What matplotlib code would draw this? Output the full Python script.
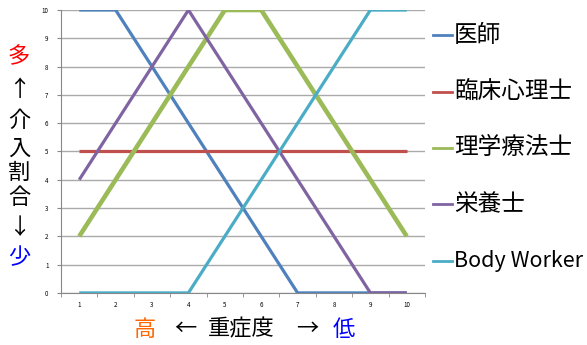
import numpy as np
import matplotlib
matplotlib.use("Agg")
import matplotlib.pyplot as plt
from matplotlib.lines import Line2D

plt.rcParams['font.family'] = ['Noto Sans CJK JP', 'DejaVu Sans']

severity = [1, 2, 3, 4, 5, 6, 7, 8, 9, 10]
ishi = [10, 10, 8, 6, 4, 2, 0, 0, 0, 0]
rinsho = [5, 5, 5, 5, 5, 5, 5, 5, 5, 5]
rigaku = [2, 4, 6, 8, 10, 10, 8, 6, 4, 2]
eiyou = [4, 6, 8, 10, 8, 6, 4, 2, 0, 0]
body = [0, 0, 0, 0, 2, 4, 6, 8, 10, 10]

series = [
    ('医師', ishi, '#4F81BD', 2.3),
    ('臨床心理士', rinsho, '#C0504D', 2.3),
    ('理学療法士', rigaku, '#9BBB59', 3.3),
    ('栄養士', eiyou, '#8064A2', 2.3),
    ('Body Worker', body, '#4BACC6', 2.3),
]

W, H = 587, 345
fig = plt.figure(figsize=(W / 100, H / 100), dpi=100)
ax = fig.add_axes([0.104, 0.151, 0.62, 0.82])

for name, vals, col, lw in series:
    ax.plot(severity, vals, color=col, lw=lw, label=name, solid_capstyle='butt', zorder=3)

ax.set_xlim(0.5, 10.5)
ax.set_ylim(0, 10)
ax.set_yticks(range(0, 11))
ax.set_xticks(severity)
ax.set_xticks(np.arange(0.5, 11, 1), minor=True)
ax.tick_params(axis='x', which='major', length=0, labelsize=4.5, pad=6)
ax.tick_params(axis='x', which='minor', length=3, color='#888888', direction='out')
ax.tick_params(axis='y', length=3, color='#888888', labelsize=4.5, pad=6)
ax.yaxis.grid(True, color='#aaaaaa', lw=1)
ax.set_axisbelow(True)
for s in ['top', 'right']:
    ax.spines[s].set_visible(False)
for s in ['left', 'bottom']:
    ax.spines[s].set_color('#888888')

# legend drawn by hand, entries stacked on the right
for i, (name, vals, col, lw) in enumerate(series):
    yp = 1 - (35 + 56.5 * i) / H
    fig.add_artist(Line2D([433 / W, 452 / W], [yp, yp], color=col, lw=2,
                          transform=fig.transFigure))
    fs = 15.5 if name == 'Body Worker' else 17
    fig.text(454 / W, yp, name, fontsize=fs, ha='left', va='center')

# vertical y label
ylab = [('多', 'red'), ('↑', 'black'), ('介', 'black'), ('入', 'black'),
        ('割', 'black'), ('合', 'black'), ('↓', 'black'), ('少', 'blue')]
ypos = [57, 89, 120, 148, 172, 197, 228, 258]
for (ch, c), yp in zip(ylab, ypos):
    fig.text(19 / W, 1 - yp / H, ch, color=c, fontsize=16, ha='center', va='center')

# x label
xlab = [('高', '#FF6600', 145), ('←', 'black', 185), ('重症度', 'black', 241),
        ('→', 'black', 307), ('低', 'blue', 344)]
for ch, c, xp in xlab:
    fig.text(xp / W, 1 - 329 / H, ch, color=c, fontsize=16, ha='center', va='center')

fig.savefig('out.png', dpi=100)
